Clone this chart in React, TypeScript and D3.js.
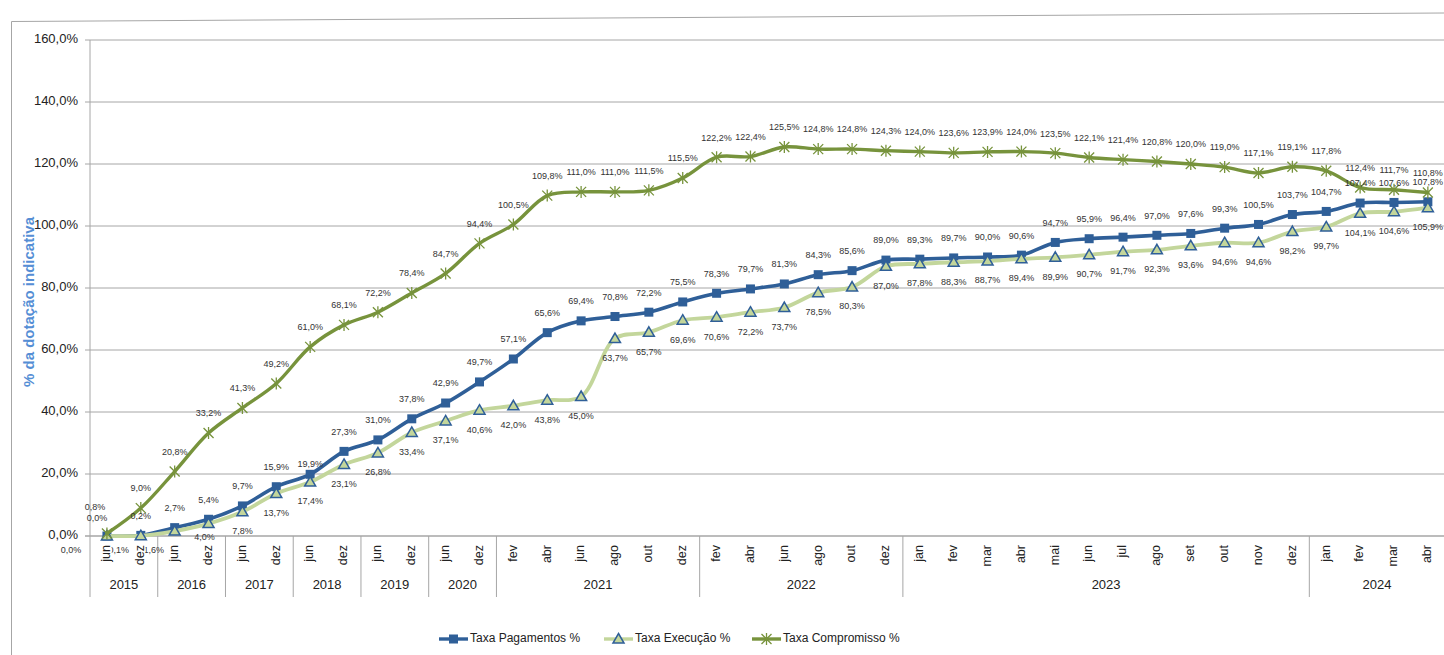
import React from 'react';
import * as d3 from 'd3';

// categorias (meses) e anos
const months = [
  'jun', 'dez', 'jun', 'dez', 'jun', 'dez', 'jun', 'dez', 'jun', 'dez', 'jun', 'dez',
  'fev', 'abr', 'jun', 'ago', 'out', 'dez',
  'fev', 'abr', 'jun', 'ago', 'out', 'dez',
  'jan', 'fev', 'mar', 'abr', 'mai', 'jun', 'jul', 'ago', 'set', 'out', 'nov', 'dez',
  'jan', 'fev', 'mar', 'abr',
];
const years = ['2015', '2016', '2017', '2018', '2019', '2020', '2021', '2022', '2023', '2024'];
const monthsPerYear = [2, 2, 2, 2, 2, 2, 6, 6, 12, 4];

const pagamentos = [
  0.0, 0.2, 2.7, 5.4, 9.7, 15.9, 19.9, 27.3, 31.0, 37.8, 42.9, 49.7,
  57.1, 65.6, 69.4, 70.8, 72.2, 75.5,
  78.3, 79.7, 81.3, 84.3, 85.6, 89.0,
  89.3, 89.7, 90.0, 90.6, 94.7, 95.9, 96.4, 97.0, 97.6, 99.3, 100.5, 103.7,
  104.7, 107.4, 107.6, 107.8,
];
const execucao = [
  0.0, 0.1, 1.6, 4.0, 7.8, 13.7, 17.4, 23.1, 26.8, 33.4, 37.1, 40.6,
  42.0, 43.8, 45.0, 63.7, 65.7, 69.6,
  70.6, 72.2, 73.7, 78.5, 80.3, 87.0,
  87.8, 88.3, 88.7, 89.4, 89.9, 90.7, 91.7, 92.3, 93.6, 94.6, 94.6, 98.2,
  99.7, 104.1, 104.6, 105.9,
];
const compromisso = [
  0.8, 9.0, 20.8, 33.2, 41.3, 49.2, 61.0, 68.1, 72.2, 78.4, 84.7, 94.4,
  100.5, 109.8, 111.0, 111.0, 111.5, 115.5,
  122.2, 122.4, 125.5, 124.8, 124.8, 124.3,
  124.0, 123.6, 123.9, 124.0, 123.5, 122.1, 121.4, 120.8, 120.0, 119.0, 117.1, 119.1,
  117.8, 112.4, 111.7, 110.8,
];

const yTicks = [0, 20, 40, 60, 80, 100, 120, 140, 160];

// deslocamentos manuais de alguns rótulos (como no original)
const labelNudge: Record<string, [number, number]> = {
  'c0': [-12, -7],
  'p0': [-10, 2],
  'e0': [-36, -5],
  'e1': [-22, -5],
  'e2': [-21, 0],
  'e3': [-4, -6],
  'p6': [0, 9],
};

const BLUE = '#2F5F98';
const LIGHT = '#C3D69B';
const OLIVE = '#77933C';
const GRID = '#A6A6A6';
const FONT = '"Liberation Sans", Arial, sans-serif';

const fmt = (v: number) => v.toFixed(1).replace('.', ',') + '%';

const step = 33.87;
const x0 = 90;
const x = d3.scaleBand<number>()
  .domain(d3.range(months.length))
  .range([x0, x0 + step * months.length]);
const y = d3.scaleLinear().domain([0, 160]).range([536, 40]);
const cx = (i: number) => (x(i) as number) + x.bandwidth() / 2;

const line = d3.line<number>()
  .x((_, i) => cx(i))
  .y(d => y(d))
  .curve(d3.curveCatmullRom.alpha(0.5));

const Square = ({ px, py }: { px: number; py: number }) => (
  <rect x={px - 4.5} y={py - 4.5} width={9} height={9} fill={BLUE} />
);
const Triangle = ({ px, py }: { px: number; py: number }) => (
  <path d={`M${px},${py - 5.5}L${px + 5.5},${py + 4}L${px - 5.5},${py + 4}Z`}
    fill={LIGHT} stroke={BLUE} strokeWidth={1.5} />
);
const Star = ({ px, py }: { px: number; py: number }) => (
  <path d={`M${px - 5},${py - 5}L${px + 5},${py + 5}M${px - 5},${py + 5}L${px + 5},${py - 5}M${px},${py - 6}L${px},${py + 6}`}
    stroke={OLIVE} strokeWidth={1.3} fill="none" />
);

export default function App() {
  const yearBounds: number[] = [0];
  monthsPerYear.forEach(n => yearBounds.push(yearBounds[yearBounds.length - 1] + n));
  const xEdge = (k: number) => x0 + step * k;

  const series = [
    { key: 'p', data: pagamentos, color: BLUE, width: 3.6, above: true, Marker: Square },
    { key: 'e', data: execucao, color: LIGHT, width: 3.8, above: false, Marker: Triangle },
    { key: 'c', data: compromisso, color: OLIVE, width: 3.4, above: true, Marker: Star },
  ];

  return (
    <svg width={1444} height={655} style={{ position: 'absolute', left: 0, top: 0, background: '#fff' }}
      fontFamily={FONT}>
      {/* moldura */}
      <path d="M11.5,655L11.5,21.5L1444,13" fill="none" stroke={GRID} strokeWidth={1} />

      {/* grelha e eixo y */}
      {yTicks.map(t => (
        <g key={t}>
          <line x1={85} x2={1444} y1={y(t)} y2={y(t)} stroke={GRID} strokeWidth={t === 0 ? 1.5 : 1} />
          <text x={78} y={y(t)} textAnchor="end" dominantBaseline="middle" fontSize={13} fill="#222">
            {fmt(t)}
          </text>
        </g>
      ))}
      <line x1={x0} x2={x0} y1={40} y2={536} stroke={GRID} strokeWidth={1} />
      <text transform={`translate(30,${302}) rotate(-90)`} textAnchor="middle" dominantBaseline="middle"
        fontSize={15} fontWeight="bold" fill="#558ED5">% da dotação indicativa</text>

      {/* separadores dos anos */}
      {yearBounds.map(k => (
        <line key={k} x1={xEdge(k)} x2={xEdge(k)} y1={536} y2={597} stroke={GRID} strokeWidth={1} />
      ))}
      {years.map((yr, i) => (
        <text key={yr} x={(xEdge(yearBounds[i]) + xEdge(yearBounds[i + 1])) / 2} y={586}
          textAnchor="middle" dominantBaseline="middle" fontSize={13} fill="#222">{yr}</text>
      ))}

      {/* séries */}
      {series.map(s => (
        <g key={s.key}>
          <path d={line(s.data) || ''} fill="none" stroke={s.color} strokeWidth={s.width}
            strokeLinejoin="round" strokeLinecap="round" />
          {s.data.map((v, i) => <s.Marker key={i} px={cx(i)} py={y(v)} />)}
        </g>
      ))}

      {/* rótulos de dados */}
      {series.map(s => (
        <g key={'l' + s.key}>
          {s.data.map((v, i) => {
            const n = labelNudge[s.key + i] || [0, 0];
            return (
              <text key={i} x={cx(i) + n[0]} y={y(v) + (s.above ? -19 : 20) + n[1]}
                textAnchor="middle" dominantBaseline="middle" fontSize={9} fill="#333">
                {fmt(v)}
              </text>
            );
          })}
        </g>
      ))}

      {/* meses */}
      {months.map((m, i) => (
        <text key={i} transform={`translate(${cx(i)},545) rotate(-90)`} textAnchor="end"
          dominantBaseline="middle" fontSize={12.5} fill="#222"
          stroke="#fff" strokeWidth={3} paintOrder="stroke">{m}</text>
      ))}

      {/* legenda */}
      {[
        { label: 'Taxa Pagamentos %', color: BLUE, lx: 439, Marker: Square },
        { label: 'Taxa Execução %', color: LIGHT, lx: 604, Marker: Triangle },
        { label: 'Taxa Compromisso %', color: OLIVE, lx: 752, Marker: Star },
      ].map(l => (
        <g key={l.label}>
          <line x1={l.lx} x2={l.lx + 29} y1={639} y2={639} stroke={l.color} strokeWidth={3.4} />
          <l.Marker px={l.lx + 14.5} py={639} />
          <text x={l.lx + 31} y={639} dominantBaseline="middle" fontSize={12} fill="#222">{l.label}</text>
        </g>
      ))}
    </svg>
  );
}
